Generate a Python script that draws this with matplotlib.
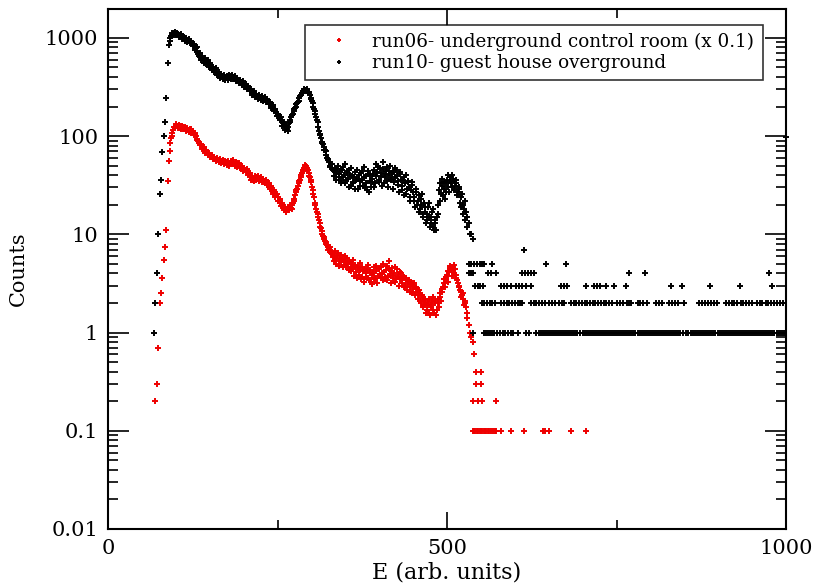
import numpy as np
import matplotlib
matplotlib.use("Agg")
import matplotlib.pyplot as plt
from matplotlib.ticker import LogLocator, FixedLocator, NullFormatter

# ---------------- data ----------------
# dense part: even channels 68..538
dense_x = list(range(68, 540, 2))

black_dense = [
    1, 2, 4, 10, 26, 36, 69, 100, 138, 245,
    560, 850, 1000, 1080, 1100, 1120, 1100, 1120, 1080, 1070,
    1040, 1000, 1010, 970, 955, 930, 940, 900, 890, 860,
    820, 790, 730, 660, 640, 620, 600, 590, 580, 575,
    550, 530, 510, 490, 480, 470, 450, 430, 420, 415,
    410, 400, 395, 390, 390, 395, 400, 405, 400, 395,
    385, 380, 375, 370, 355, 345, 335, 325, 316, 310,
    300, 290, 280, 275, 265, 260, 255, 250, 250, 245,
    240, 238, 235, 234, 225, 215, 210, 200, 195, 185,
    175, 165, 160, 150, 140, 135, 130, 122, 118, 125,
    140, 155, 165, 180, 195, 210, 225, 245, 260, 275,
    285, 292, 295, 290, 280, 260, 240, 215, 190, 170,
    145, 124, 105, 95, 85, 78, 72, 65, 58, 54,
    50, 47, 45, 44, 42, 46, 38, 44, 35, 48,
    40, 33, 42, 37, 45, 31, 39, 34, 43, 36,
    29, 40, 35, 44, 31, 38, 33, 28, 41, 35,
    30, 37, 45, 33, 39, 48, 36, 42, 31, 46,
    38, 44, 35, 40, 50, 37, 43, 34, 47, 39,
    32, 41, 36, 28, 38, 33, 26, 35, 30, 24,
    32, 27, 22, 29, 20, 25, 18, 23, 16, 21,
    17, 14, 19, 15, 13, 17, 12, 14, 11, 16,
    28, 22, 31, 25, 34, 27, 36, 30, 38, 33,
    40, 35, 31, 33, 27, 30, 24, 26, 20, 22,
    17, 15, 13, 10, 10, 9,
]

red_dense = [
    None, 0.2, 0.3, 0.7, 2.0, 2.5, 3.6, 5.5, 7.4, 11,
    35, 56, 85, 100, 115, 125, 128, 127, 125, 122,
    126, 124, 120, 122, 118, 116, 114, 117, 112, 110,
    108, 100, 92, 86, 82, 78, 75, 72, 70, 69,
    67, 65, 63, 62, 60, 59, 58, 57, 57, 56,
    55, 55, 54, 53, 54, 52, 53, 54, 55, 52,
    51, 53, 51, 50, 48, 47, 46, 45, 45, 43,
    41, 39, 37, 36, 37, 38, 37, 36, 37, 36,
    35, 34, 35, 34, 32, 31, 30, 28, 27, 26,
    25, 24, 22, 21, 20, 19, 18.5, 18, 17.5, 18,
    19, 18.6, 20, 22, 25, 28, 31, 35, 38, 42,
    45, 48, 50, 47, 42, 38, 34, 28, 24, 20,
    17, 15, 13, 11.5, 10, 9.4, 8.6, 8.0, 7.5, 7.2,
    6.8, 6.3, 5.9, 6.2, 5.6, 6.0, 5.4, 5.8, 5.2, 5.6,
    4.9, 5.3, 5.1, 4.7, 5.4, 4.5, 5.0, 4.4, 4.8, 4.1,
    4.6, 3.9, 4.3, 3.7, 4.2, 3.5, 4.0, 4.4, 3.6, 4.1,
    3.3, 3.9, 4.6, 3.5, 4.2, 3.8, 4.4, 3.6, 4.0, 5.0,
    3.7, 4.3, 3.4, 5.3, 3.9, 4.2, 3.6, 4.0, 3.3, 4.4,
    3.7, 3.5, 4.0, 3.2, 3.7, 3.0, 3.5, 3.1, 3.4, 2.9,
    3.2, 2.8, 3.0, 2.6, 2.8, 2.4, 2.5, 2.1, 2.3, 1.9,
    2.1, 1.7, 2.0, 1.6, 1.9, 2.1, 1.7, 2.0, 1.5, 2.2,
    1.8, 2.3, 2.6, 2.9, 3.2, 3.5, 3.9, 4.2, 4.5, 4.3,
    4.6, 4.0, 4.4, 3.6, 3.2, 2.9, 2.6, 2.4, 2.2, 2.0,
    1.8, 1.4, 1.2, 1.0, 0.9, 0.8,
]

# odd channels 91..529
odd_x = list(range(91, 531, 2))

black_odd = [
    940, 1050, 1130, 1060, 1150, 1060, 1090, 1020, 1100, 980,
    1040, 930, 990, 900, 970, 880, 930, 830, 870, 760,
    810, 690, 700, 600, 650, 560, 620, 540, 590, 510,
    550, 470, 510, 450, 490, 420, 445, 395, 430, 380,
    420, 370, 410, 375, 415, 385, 420, 380, 405, 360,
    395, 350, 375, 330, 360, 315, 340, 300, 325, 285,
    300, 265, 285, 250, 270, 240, 262, 235, 255, 228,
    248, 222, 240, 210, 222, 195, 207, 180, 190, 160,
    170, 145, 155, 128, 140, 115, 128, 112, 135, 145,
    165, 170, 190, 200, 220, 230, 255, 265, 285, 300,
    285, 305, 280, 275, 245, 230, 200, 180, 155, 138,
    112, 102, 88, 83, 72, 70, 60, 57, 49, 52,
    52, 39, 47, 36, 50, 41, 33, 45, 38, 52,
    36, 44, 30, 40, 47, 33, 38, 29, 45, 37,
    31, 42, 36, 48, 30, 39, 44, 27, 40, 34,
    41, 30, 52, 43, 34, 47, 39, 55, 33, 41,
    48, 30, 44, 36, 42, 29, 38, 45, 35, 27,
    43, 31, 36, 25, 40, 29, 34, 22, 28, 34,
    24, 19, 27, 22, 17, 20, 26, 15, 19, 13,
    16, 21, 12, 15, 18, 11, 13, 15, 20, 33,
    26, 37, 29, 23, 33, 40, 27, 35, 30, 37,
    28, 36, 25, 29, 21, 19, 16, 18, 14, 12,
]

red_odd = [
    70, 95, 108, 124, 120, 133, 121, 130, 118, 128,
    117, 125, 113, 121, 111, 119, 108, 113, 103, 106,
    94, 90, 82, 84, 74, 77, 68, 72, 64, 68,
    61, 65, 59, 62, 56, 60, 55, 59, 53, 57,
    52, 56, 51, 56, 50, 56, 52, 57, 50, 54,
    49, 53, 47, 50, 44, 47, 43, 46, 40, 42,
    36, 38, 35, 39, 36, 39, 35, 38, 34, 37,
    33, 36, 32, 33, 29, 31, 26, 28, 24, 26,
    22, 23, 19.5, 21, 17.5, 19, 17, 18.5, 17.5, 20,
    18, 21, 23, 27, 29, 33, 36, 40, 44, 47,
    51, 46, 45, 39, 36, 30, 26, 21, 18, 16,
    14, 12, 10.8, 9.7, 9.0, 8.3, 7.8, 7.0, 7.4, 6.4,
    6.6, 5.4, 6.8, 5.0, 6.4, 4.8, 6.1, 5.5, 4.6, 6.0,
    4.6, 5.7, 4.3, 5.2, 4.2, 5.5, 3.8, 4.9, 3.6, 4.5,
    5.1, 3.5, 4.7, 3.3, 4.4, 3.7, 4.9, 3.4, 4.3, 3.1,
    4.0, 3.6, 4.8, 3.2, 4.5, 3.9, 4.7, 3.4, 4.1, 3.5,
    4.8, 3.8, 4.4, 3.2, 4.5, 3.8, 4.6, 3.5, 3.9, 3.0,
    4.1, 3.4, 3.8, 2.9, 3.6, 2.7, 3.3, 2.6, 3.1, 2.5,
    3.2, 2.4, 2.9, 2.2, 2.7, 2.0, 2.4, 1.8, 2.2, 1.6,
    1.9, 2.2, 1.5, 1.8, 2.3, 1.6, 2.1, 1.7, 2.0, 2.5,
    2.1, 2.8, 3.5, 2.9, 3.7, 3.3, 4.1, 4.8, 3.8, 4.3,
    4.9, 3.9, 3.4, 3.0, 2.7, 2.3, 2.5, 1.9, 2.1, 1.6,
]

# sparse tail of run06 (x 0.1 scaled)
red_tail_x = [540, 543, 550, 543, 550, 539, 545, 552, 573,
              538, 540, 542, 544, 546, 548, 550, 552, 554, 556, 558,
              560, 562, 565, 568, 571, 573, 580, 595, 614, 641, 645,
              651, 683, 705]
red_tail_y = [0.6, 0.4, 0.4, 0.3, 0.3, 0.2, 0.2, 0.2, 0.2,
              0.1, 0.1, 0.1, 0.1, 0.1, 0.1, 0.1, 0.1, 0.1, 0.1, 0.1,
              0.1, 0.1, 0.1, 0.1, 0.1, 0.1, 0.1, 0.1, 0.1, 0.1, 0.1,
              0.1, 0.1, 0.1]

# sparse tail of run10, channels per count level
black_x_1 = [538, 555, 558, 561, 564, 567, 570, 574, 578, 582, 585, 590, 594,
             598, 604, 617, 621, 632, 635, 638, 641, 644, 647, 650, 653, 656,
             659, 662, 665, 668, 671, 674, 677, 680, 683, 686, 689, 692, 696,
             700, 703, 706, 709, 712, 715, 718, 721, 724, 727, 730, 733, 736,
             739, 742, 745, 748, 751, 754, 757, 760, 763, 766, 769, 772, 775,
             778, 781, 784, 787, 790, 793, 796, 799, 802, 805, 808, 811, 814,
             817, 820, 823, 826, 829, 832, 835, 838, 841, 844, 848, 852, 856,
             860, 863, 866, 869, 872, 875, 878, 881, 884, 887, 890, 893, 896,
             899, 902, 905, 908, 911, 914, 917, 920, 923, 926, 929, 932, 935,
             938, 941, 944, 947, 950, 953, 956, 959, 962, 965, 968, 971, 974,
             977, 980, 983, 986, 989, 992, 995, 998]
black_x_2 = [551, 555, 559, 563, 567, 571, 580, 584, 588, 592, 596, 600, 604,
             608, 611, 624, 628, 632, 636, 640, 645, 650, 655, 660, 665, 669,
             673, 683, 687, 691, 695, 699, 703, 707, 711, 715, 719, 723, 727,
             731, 735, 739, 744, 751, 755, 760, 765, 768, 772, 781, 785, 789,
             795, 808, 813, 817, 828, 832, 836, 840, 850, 872, 876, 880, 885,
             890, 894, 898, 912, 916, 920, 924, 928, 933, 937, 941, 946, 950,
             957, 961, 965, 970, 974, 978, 983, 987, 991, 995]
black_x_3 = [541, 545, 549, 553, 580, 584, 589, 595, 602, 606, 611, 617, 624,
             668, 672, 677, 705, 717, 721, 725, 735, 747, 764, 831, 847, 888,
             932, 980]
black_x_4 = [533, 536, 538, 560, 565, 573, 611, 615, 619, 624, 629, 769, 792, 975]
black_x_5 = [533, 536, 540, 544, 548, 551, 555, 567, 646, 676]
black_x_7 = [614]
black_x_overflow = [1000]
black_overflow_val = [98]

label_red = "run06- underground control room (x 0.1)"
label_black = "run10- guest house overground"

# ---------------- figure ----------------
plt.rcParams['font.family'] = ['DejaVu Serif']
fig = plt.figure(figsize=(8.19, 5.87), dpi=100)
ax = fig.add_axes([108/819, 1-529/587, 678/819, 520/587])

mk = dict(marker='+', linestyle='none', ms=4.5, mew=1.4)
RED = '#ee0000'

rx = [x for x, v in zip(dense_x, red_dense) if v is not None] + odd_x + red_tail_x
ry = [v for v in red_dense if v is not None] + red_odd + red_tail_y
ax.plot(rx, ry, color=RED, label=label_red, **mk)

bx = list(dense_x) + odd_x
by = list(black_dense) + black_odd
for lvl, xs in [(1, black_x_1), (2, black_x_2), (3, black_x_3), (4, black_x_4),
                (5, black_x_5), (7, black_x_7)]:
    bx += xs
    by += [lvl] * len(xs)
ax.plot(bx, by, color='black', label=label_black, **mk)
ax.plot(black_x_overflow, black_overflow_val, color='black', clip_on=False, **mk)

ax.set_yscale('log')
ax.set_xlim(0, 1000)
ax.set_ylim(0.01, 1970)

ax.xaxis.set_major_locator(FixedLocator([0, 500, 1000]))
ax.xaxis.set_minor_locator(FixedLocator([250, 750]))
ax.yaxis.set_major_locator(FixedLocator([0.01, 0.1, 1, 10, 100, 1000]))
ax.yaxis.set_minor_locator(LogLocator(base=10, subs=np.arange(2, 10)))
ax.yaxis.set_minor_formatter(NullFormatter())
ax.set_yticklabels(['0.01', '0.1', '1', '10', '100', '1000'])
ax.set_xticklabels(['0', '500', '1000'])

ax.tick_params(which='both', direction='in', top=True, right=True,
               labelsize=15, width=1.2, colors='black')
ax.tick_params(axis='y', which='major', length=15, pad=7)
ax.tick_params(axis='y', which='minor', length=7.5)
ax.tick_params(axis='x', which='major', length=12, pad=7)
ax.tick_params(axis='x', which='minor', length=6.5)
for s in ax.spines.values():
    s.set_linewidth(1.5)

ax.set_xlabel("E (arb. units)", fontsize=16, labelpad=3)
ax.set_ylabel("Counts", fontsize=15, labelpad=12)

leg = ax.legend(loc='upper left', bbox_to_anchor=(0.2906, 0.969, 0.676, 0.0),
                mode='expand', fontsize=13.2, frameon=True, fancybox=False,
                borderaxespad=0, handlelength=2.9, handletextpad=0.35,
                borderpad=0.4, labelspacing=0.2, markerscale=0.7)
leg.get_frame().set_edgecolor('black')
leg.get_frame().set_linewidth(1.2)

fig.savefig("out.png", dpi=100)
